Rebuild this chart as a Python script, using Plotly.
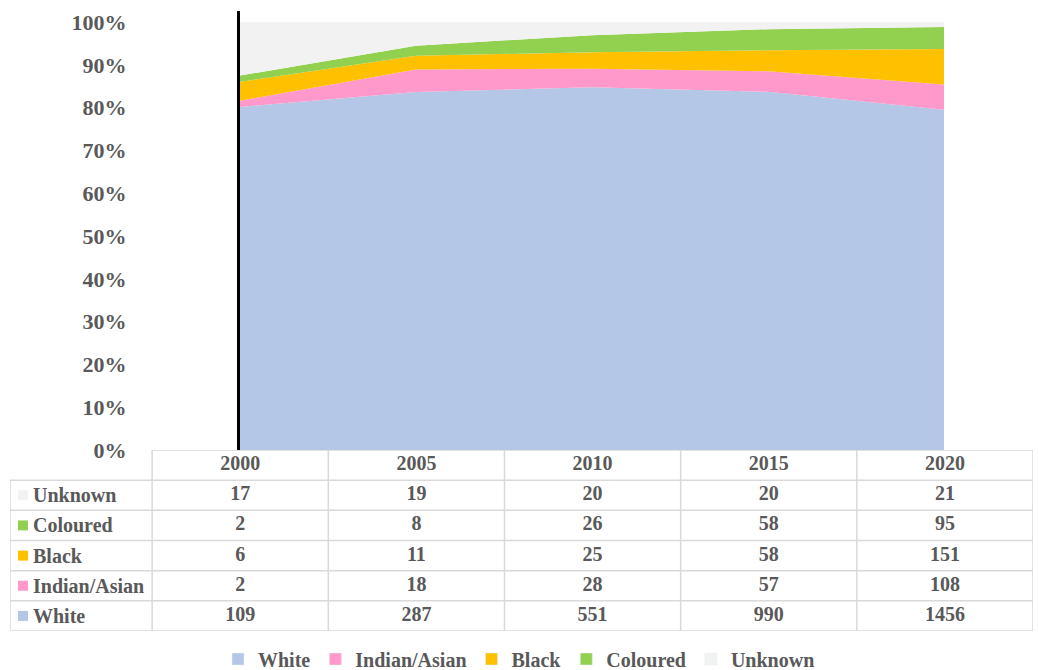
import plotly.graph_objects as go

years = ["2000", "2005", "2010", "2015", "2020"]
groups = ["White", "Indian/Asian", "Black", "Coloured", "Unknown"]
white = [109, 287, 551, 990, 1456]
indian_asian = [2, 18, 28, 57, 108]
black = [6, 11, 25, 58, 151]
coloured = [2, 8, 26, 58, 95]
unknown = [17, 19, 20, 20, 21]
colors = ["#B4C7E7", "#FF99CC", "#FFC000", "#92D050", "#F2F2F2"]
y_ticks = [0, 10, 20, 30, 40, 50, 60, 70, 80, 90, 100]

series = [white, indian_asian, black, coloured, unknown]
W, H = 1038, 670
FONT = "Liberation Serif, Times New Roman, serif"
TXT = "#595959"
GRID = "#D9D9D9"

fig = go.Figure()
xs = list(range(len(years)))

# ---- 100% stacked area ----
for name, vals, col in zip(groups, series, colors):
    fig.add_trace(go.Scatter(
        x=xs, y=vals, name=name, stackgroup="one", groupnorm="percent",
        mode="none", fillcolor=col, line=dict(width=0), showlegend=False,
        hoverinfo="skip", xaxis="x", yaxis="y"))

# legend entries (square markers)
for name, col in zip(groups, colors):
    fig.add_trace(go.Bar(x=[None], y=[None], name=name, marker_color=col,
                         showlegend=True, xaxis="x", yaxis="y"))

# ---- data table drawn on its own axes (columns = year index, rows = index) ----
COL_PX = 176
label_w = 142 / COL_PX          # width of label column, in year-column units
left = -0.5 - label_w
n_rows = len(groups) + 1        # header + one row per group
order = list(range(len(groups)))[::-1]   # Unknown at top ... White at bottom

# header text
fig.add_trace(go.Scatter(
    x=xs, y=[0.5] * len(years), text=years, mode="text",
    textfont=dict(family=FONT, size=20, color=TXT, weight="bold"),
    showlegend=False, hoverinfo="skip", xaxis="x2", yaxis="y2"))

# value cells
cx, cy, ct = [], [], []
for r, gi in enumerate(order):
    for j in range(len(years)):
        cx.append(j)
        cy.append(r + 1.5)
        ct.append(str(series[gi][j]))
fig.add_trace(go.Scatter(
    x=cx, y=cy, text=ct, mode="text",
    textfont=dict(family=FONT, size=20, color=TXT, weight="bold"),
    showlegend=False, hoverinfo="skip", xaxis="x2", yaxis="y2"))

# colour keys in the label column
fig.add_trace(go.Scatter(
    x=[left + 13 / COL_PX] * len(order), y=[r + 1.5 for r in range(len(order))],
    mode="markers",
    marker=dict(symbol="square", size=10, color=[colors[gi] for gi in order],
                line=dict(width=0)),
    showlegend=False, hoverinfo="skip", xaxis="x2", yaxis="y2"))

# row labels
for r, gi in enumerate(order):
    fig.add_annotation(
        x=left, y=r + 1.5, xref="x2", yref="y2", xanchor="left", yanchor="middle",
        xshift=21, showarrow=False, text=f"<b>{groups[gi]}</b>",
        font=dict(family=FONT, size=20, color=TXT))

# grid lines
col_bounds = [left] + [j - 0.5 for j in range(len(years) + 1)]
for r in range(n_rows + 1):
    fig.add_shape(type="line", xref="x2", yref="y2",
                  x0=(-0.5 if r == 0 else left), x1=len(years) - 0.5, y0=r, y1=r,
                  line=dict(color=GRID, width=1.5), layer="above")
for k, c in enumerate(col_bounds):
    fig.add_shape(type="line", xref="x2", yref="y2",
                  x0=c, x1=c, y0=(1 if k == 0 else 0), y1=n_rows,
                  line=dict(color=GRID, width=1.5), layer="above")

hidden = dict(showticklabels=False, showgrid=False, zeroline=False,
              showline=False, ticks="", fixedrange=True)

fig.update_layout(
    width=W, height=H,
    margin=dict(l=0, r=0, t=0, b=0, autoexpand=False),
    paper_bgcolor="white", plot_bgcolor="rgba(0,0,0,0)",
    showlegend=True,
    legend=dict(orientation="h", x=0.5, xanchor="center", y=(H - 659) / H,
                yanchor="middle", traceorder="normal",
                font=dict(family=FONT, size=20, color=TXT, weight="bold"),
                itemwidth=30, tracegroupgap=0),
    xaxis=dict(domain=[240 / W, 944 / W], range=[0, len(years) - 1],
               anchor="y", **hidden),
    yaxis=dict(domain=[(H - 450) / H, (H - 11.3) / H], range=[0, 102.5],
               anchor="x",
               tickvals=y_ticks, ticktext=[f"{v}%" for v in y_ticks],
               showgrid=False, zeroline=False,
               showline=True, linecolor="black", linewidth=3,
               layer="above traces",
               ticklabelstandoff=106,
               tickfont=dict(family=FONT, size=22, color=TXT, weight="bold"),
               fixedrange=True),
    xaxis2=dict(domain=[10 / W, 1033 / W], range=[left, len(years) - 0.5],
                anchor="y2", **hidden),
    yaxis2=dict(domain=[(H - 631) / H, (H - 450) / H], range=[n_rows, 0],
                anchor="x2", **hidden),
)

fig.write_html("out.html", config={"displayModeBar": False},
               post_script="document.body.style.margin='0';document.body.style.overflow='hidden';")
